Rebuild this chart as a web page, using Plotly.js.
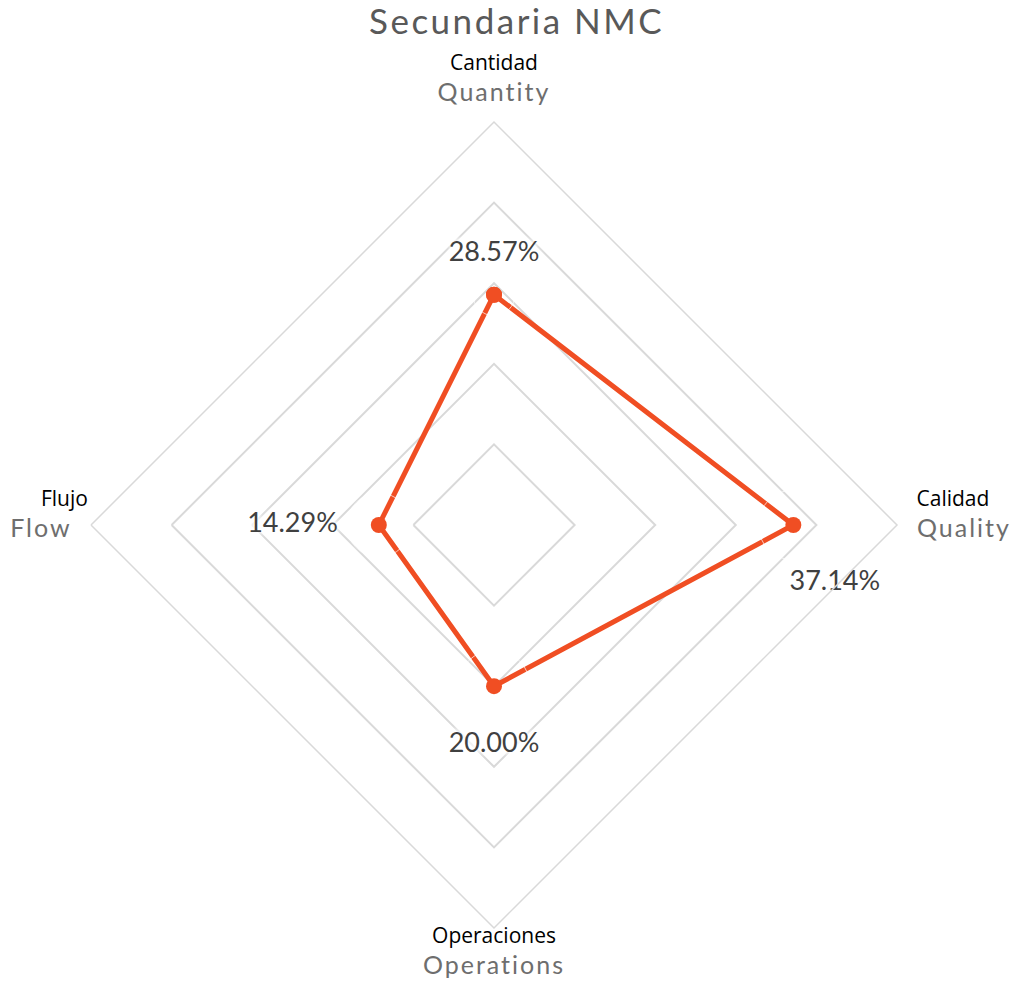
<!DOCTYPE html>
<html>
<head>
<meta charset="utf-8">
<script src="https://cdn.plot.ly/plotly-3.0.1.min.js"></script>
<style>
  html, body { margin: 0; padding: 0; background: #fff; }
  #chart { width: 1013px; height: 981px; }
</style>
</head>
<body>
<div id="chart"></div>
<script>
var labelsEs = ['Cantidad', 'Calidad', 'Operaciones', 'Flujo'];
var labelsEn = ['Quantity', 'Quality', 'Operations', 'Flow'];
var values = [28.57, 37.14, 20.00, 14.29];

// where each value label sits, and an invisible marker size that pushes it off the point
var textPos = ['top center', 'bottom center', 'bottom center', 'middle left'];
var textPad = [42, 70, 72, 64];
var textShift = ['', '\u00a0'.repeat(12), '', ''];

// small nudges so the axis captions sit like the original
var esLead = ['', '\u00a0\u00a0\u00a0', '', ''];
var enLead = ['', '\u00a0\u00a0', '', ''];
var enTrail = ['', '', '', '\u00a0\u00a0'];

var cats = labelsEn.map(function (en, i) {
  return '<span style="font-family:\'Open Sans\';font-size:21px;fill:#000">' + esLead[i] + labelsEs[i] +
    '</span><br><br><span style="font-size:25px;letter-spacing:2px">' + enLead[i] + en + enTrail[i] +
    '</span><br>';
});

// close the polygon
var r = values.concat([values[0]]);
var theta = cats.concat([cats[0]]);

var lineTrace = {
  type: 'scatterpolar',
  r: r,
  theta: theta,
  mode: 'lines+markers',
  line: { color: '#F04E23', width: 5 },
  marker: { color: '#F04E23', size: 16 },
  hoverinfo: 'none'
};

var labelTrace = {
  type: 'scatterpolar',
  r: values,
  theta: cats,
  mode: 'markers+text',
  text: values.map(function (v, i) { return textShift[i] + v.toFixed(2) + '%'; }),
  textposition: textPos,
  textfont: {
    family: 'Lato', size: 27, color: '#404040',
    shadow: '0 0 5px #fff, 0 0 5px #fff, 0 0 6px #fff, 0 0 8px #fff, 0 0 10px #fff'
  },
  marker: { size: textPad, color: 'rgba(0,0,0,0)' },
  hoverinfo: 'none',
  cliponaxis: false
};

var layout = {
  width: 1013,
  height: 981,
  showlegend: false,
  paper_bgcolor: '#fff',
  margin: { l: 91, r: 116, t: 122, b: 53 },
  title: {
    text: '<span style="letter-spacing:2.5px">Secundaria NMC</span>',
    font: { family: 'Lato', size: 35, color: '#595959' },
    x: 0.51, xanchor: 'center',
    yref: 'container', y: 1 - 22 / 981, yanchor: 'middle'
  },
  polar: {
    bgcolor: '#fff',
    gridshape: 'linear',
    radialaxis: {
      range: [0, 50],
      dtick: 10,
      showticklabels: false,
      ticks: '',
      showline: false,
      gridcolor: '#d9d9d9',
      gridwidth: 1.5
    },
    angularaxis: {
      rotation: 90,
      direction: 'clockwise',
      showgrid: false,
      showline: true,
      linecolor: '#d9d9d9',
      linewidth: 1.5,
      ticks: '',
      tickfont: { family: 'Lato', size: 12, color: '#6e6e6e' }
    }
  }
};

Plotly.newPlot('chart', [lineTrace, labelTrace], layout, { displayModeBar: false });
</script>
</body>
</html>
